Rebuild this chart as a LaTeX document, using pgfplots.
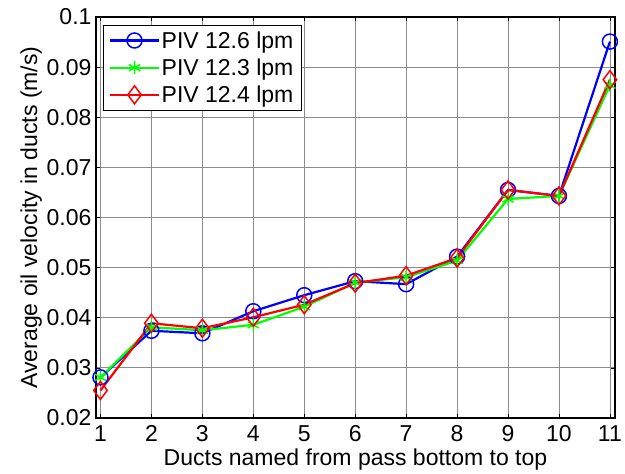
\documentclass[border=0pt]{standalone}
\usepackage{pgfplots}
\pgfplotsset{compat=1.18}
\usepackage{fontspec}
\setmainfont{Liberation Sans}
\definecolor{mblue}{RGB}{0,0,255}
\definecolor{mgreen}{RGB}{0,255,0}
\definecolor{mred}{RGB}{255,0,0}
\begin{document}
\begin{tikzpicture}
\begin{axis}[
  at={(0,0)}, anchor=south west,
  scale only axis,
  width=519pt, height=401pt,
  xmin=0.912, xmax=11.1, ymin=0.02, ymax=0.1,
  xtick={1,...,11},
  ytick={0.02,0.03,...,0.1},
  yticklabels={0.02,0.03,0.04,0.05,0.06,0.07,0.08,0.09,0.1},
  grid=major,
  major grid style={black!45, line width=0.8pt},
  axis line style={black, line width=1.2pt},
  tick style={black, line width=0.7pt},
  major tick length=4pt,
  tick align=inside,
  xtick pos=both, ytick pos=both,
  tick label style={font=\fontsize{23}{25}\selectfont},
  /pgf/number format/assume math mode=true,
  xticklabel style={yshift=-4pt},
  yticklabel style={xshift=-1pt},
  label style={font=\fontsize{23}{25}\selectfont},
  xlabel={Ducts named from pass bottom to top},
  ylabel={Average oil velocity in ducts (m/s)},
  xlabel style={yshift=0pt},
  ylabel style={yshift=-2pt},
  legend style={at={(rel axis cs:0,1)}, anchor=north west, xshift=7pt, yshift=-8pt,
    draw=black, line width=0.8pt, font=\fontsize{23}{26}\selectfont,
    inner xsep=6pt, inner ysep=4pt, row sep=5pt},
  legend cell align=left,
  legend image code/.code={
    \draw[mark repeat=2,mark phase=2] plot coordinates {(0cm,0cm) (0.845cm,0cm) (1.69cm,0cm)};},
]
\addplot[mblue, line width=2.2pt, mark=o, mark size=7.5pt, mark options={line width=1.5pt}]
 coordinates {(1,0.0281) (2,0.0374) (3,0.0369) (4,0.0413) (5,0.0445) (6,0.0473) (7,0.0467) (8,0.0522) (9,0.0655) (10,0.0643) (11,0.0951)};
\addlegendentry{PIV 12.6 lpm}
\addplot[mgreen, line width=2.2pt, mark=asterisk, mark size=6.5pt, mark options={line width=1.5pt}]
 coordinates {(1,0.0281) (2,0.0381) (3,0.0375) (4,0.0386) (5,0.0422) (6,0.0470) (7,0.0481) (8,0.0514) (9,0.0637) (10,0.0643) (11,0.0864)};
\addlegendentry{PIV 12.3 lpm}
\addplot[mred, line width=2.2pt, mark=diamond, mark size=9pt, mark options={line width=1.5pt}]
 coordinates {(1,0.0255) (2,0.0389) (3,0.0379) (4,0.0401) (5,0.0426) (6,0.0469) (7,0.0484) (8,0.0519) (9,0.0655) (10,0.0643) (11,0.0875)};
\addlegendentry{PIV 12.4 lpm}
\end{axis}
\pgfresetboundingbox
\path (-96pt,-56pt) rectangle (529pt,418pt);
\end{tikzpicture}
\end{document}
